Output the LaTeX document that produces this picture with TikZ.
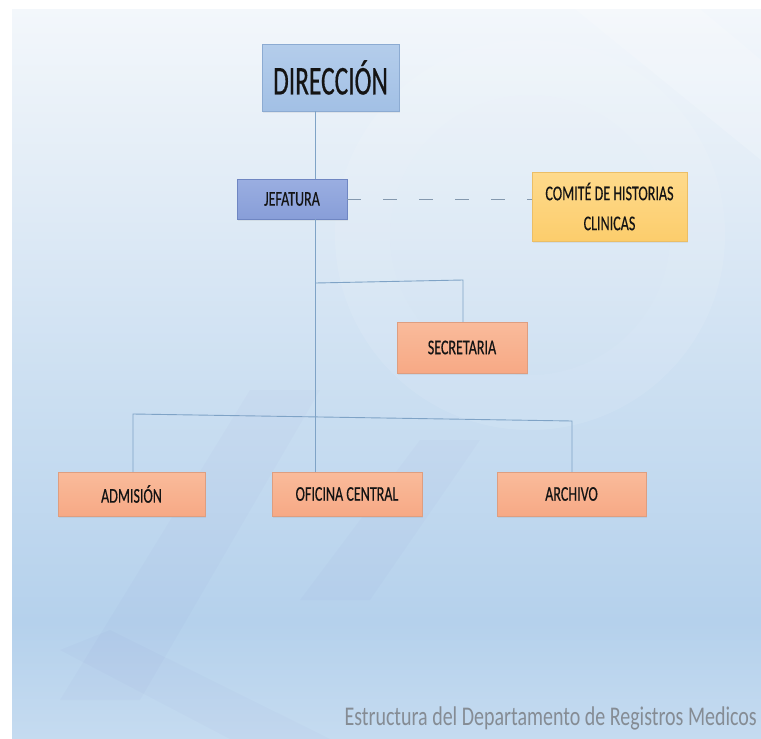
\documentclass[tikz,border=0pt]{standalone}
\usepackage{fontspec}
\setmainfont{Carlito}
\newfontfamily\boxfont[FakeStretch=0.67,FakeBold=0.35]{Carlito}
\newfontfamily\dirfont[FakeStretch=0.62,FakeBold=0.35]{Carlito}
\newfontfamily\capfont[FakeStretch=0.74]{Carlito}
\usetikzlibrary{shadows}
\definecolor{bgA}{HTML}{F3F7FB}
\definecolor{bgB}{HTML}{E0EBF6}
\definecolor{bgC}{HTML}{CADEF1}
\definecolor{bgD}{HTML}{B5D1EC}
\definecolor{bgE}{HTML}{C5DBF0}
\definecolor{lineC}{HTML}{7FA3C6}
\definecolor{dashC}{HTML}{8498AE}
\definecolor{txtC}{HTML}{141414}
\definecolor{capC}{HTML}{858C94}
\definecolor{dirT}{HTML}{B4CDEB}
\definecolor{dirB}{HTML}{A2C0E5}
\definecolor{dirD}{HTML}{8CABD2}
\definecolor{jefT}{HTML}{9AAEE1}
\definecolor{jefB}{HTML}{889ED8}
\definecolor{jefD}{HTML}{6F86C2}
\definecolor{comT}{HTML}{FEDA8C}
\definecolor{comB}{HTML}{FCCD6C}
\definecolor{comD}{HTML}{EBBE66}
\definecolor{orT}{HTML}{F9BB9B}
\definecolor{orB}{HTML}{F7A985}
\definecolor{orD}{HTML}{DE9E80}
\pgfdeclareverticalshading{bgshade}{100bp}{%
  color(0bp)=(bgE); color(25bp)=(bgE); color(33bp)=(bgD);
  color(48bp)=(bgC); color(62bp)=(bgB); color(75bp)=(bgA); color(100bp)=(bgA)}
\tikzset{
  orgbox/.style={rectangle, inner sep=2pt, align=center, text=txtC,
    font=\boxfont\fontsize{21}{30}\selectfont,
    drop shadow={opacity=0.12, shadow xshift=1pt, shadow yshift=-1.5pt}},
  dirbox/.style={orgbox, draw=dirD, top color=dirT, bottom color=dirB,
    minimum width=137pt, minimum height=67pt,
    font=\dirfont\fontsize{41}{42}\selectfont},
  jefbox/.style={orgbox, draw=jefD, top color=jefT, bottom color=jefB},
  combox/.style={orgbox, draw=comD, top color=comT, bottom color=comB},
  orbox/.style={orgbox, draw=orD, top color=orT, bottom color=orB},
  link/.style={draw=lineC, line width=0.9pt},
  dashlink/.style={draw=dashC, line width=0.8pt, dash pattern=on 14pt off 22pt}
}
\begin{document}
\begin{tikzpicture}[x=1pt,y=-1pt]
\useasboundingbox (0,0) rectangle (761,739);
% background
\fill[white] (0,0) rectangle (761,739);
\shade[shading=bgshade] (12,9) rectangle (761,739);
% faint watermark shapes
\begin{scope}
\clip (12,9) rectangle (761,739);
\fill[white, opacity=0.09, even odd rule] (530,235) circle (195) (530,235) circle (140);
\fill[white, opacity=0.06] (530,235) circle (140);
\fill[white, opacity=0.18] (575,9) -- (700,9) -- (761,60) -- (761,160) -- cycle;
\fill[blue!40!gray, opacity=0.025] (60,700) -- (250,390) -- (320,390) -- (140,700) -- cycle;
\fill[blue!40!gray, opacity=0.025] (300,600) -- (420,440) -- (480,440) -- (370,600) -- cycle;
\fill[blue!40!gray, opacity=0.022] (60,650) -- (110,630) -- (330,739) -- (230,739) -- cycle;
\end{scope}
% nodes
\node[dirbox] (dir) at (330.5,77.5) {DIRECCIÓN};
\node[jefbox, minimum width=110pt, minimum height=40pt] (jef) at (292,199) {JEFATURA};
\node[combox, minimum width=155pt, minimum height=69pt] (com) at (609.5,206.5) {COMITÉ DE HISTORIAS\\CLINICAS};
\node[orbox, minimum width=130pt, minimum height=51pt] (sec) at (462,347.5) {SECRETARIA};
\node[orbox, minimum width=147pt, minimum height=44pt] (adm) at (131.5,494) {ADMISIÓN};
\node[orbox, minimum width=150pt, minimum height=44pt] (ofi) at (347,494) {OFICINA CENTRAL};
\node[orbox, minimum width=149pt, minimum height=44pt] (arc) at (571.5,494) {ARCHIVO};
% routing coordinates
\coordinate (tx) at (315.5,0);
\coordinate (sb1) at (315.5,283);
\coordinate (sb2) at (463,280);
\coordinate (bb1) at (133,414);
\coordinate (bb2) at (572,421);
% connectors
\draw[link] (dir.south -| tx) -- (jef.north -| tx);
\draw[link] (jef.south -| tx) -- (ofi.north -| tx);
\draw[link] (sb1) -- (sb2) -- (sec.north -| sb2);
\draw[link] (adm.north -| bb1) -- (bb1) -- (bb2) -- (arc.north -| bb2);
\draw[dashlink] (jef.east) -- (jef.east -| com.west);
% caption
\node[anchor=base east, inner sep=0pt, text=capC, font=\capfont\fontsize{27}{30}\selectfont] (cap) at (757,725) {Estructura del Departamento de Registros Medicos};
\end{tikzpicture}
\end{document}
